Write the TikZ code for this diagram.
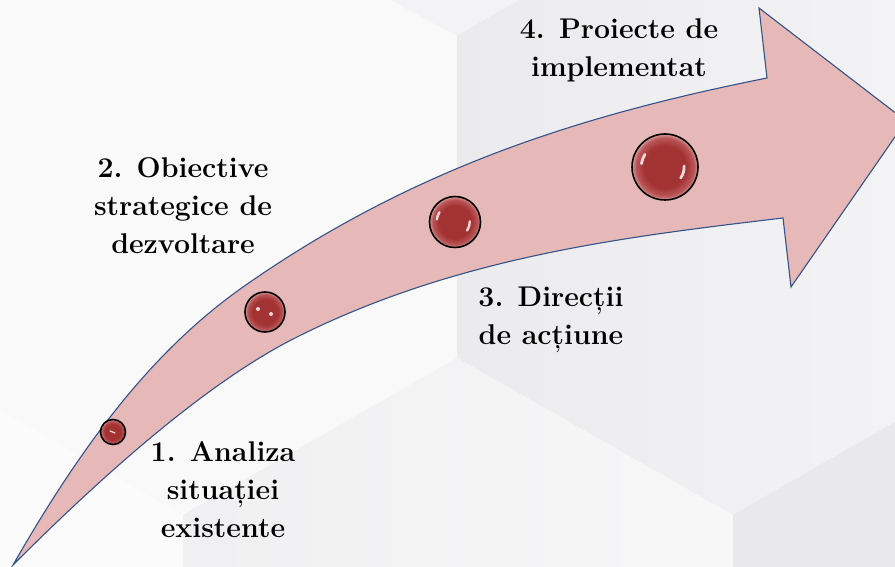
\documentclass[tikz,border=0pt]{standalone}
\definecolor{bgbase}{HTML}{F3F3F5}
\definecolor{bgwhite}{HTML}{F9F9FA}
\definecolor{bgface}{HTML}{EBEBED}
\definecolor{bgmid}{HTML}{F7F7F8}
\definecolor{bgdark}{HTML}{E9E9EB}
\definecolor{bglight}{HTML}{FBFBFB}
\definecolor{arrowpink}{HTML}{E6B8B7}
\definecolor{arrowline}{HTML}{34538A}
\definecolor{orbcore}{HTML}{A33233}
\definecolor{orbrim}{HTML}{B95556}
\definecolor{orbhalo}{HTML}{D69A9A}
\pgfdeclareradialshading{orbfill}{\pgfpoint{0bp}{0bp}}{color(0bp)=(orbcore); color(16bp)=(orbcore); color(22bp)=(orbrim); color(25bp)=(orbhalo); color(50bp)=(orbhalo)}

\begin{document}
\begin{tikzpicture}[x=1pt,y=1pt,
 lbl/.style={font=\fontsize{28.5}{38}\selectfont\bfseries,align=center,inner sep=0pt},
 orb/.style={circle,draw=black,line width=1.6pt,shading=orbfill,minimum size=#1,inner sep=0pt},
 glint/.style={white,opacity=.8,line cap=round,line width=#1}]
\useasboundingbox (0,0) rectangle (895,567);
\clip (0,0) rectangle (895,567);
\fill[bgbase] (0,0) rectangle (895,567);
\fill[bgwhite] (0,567)--(390,567)--(457,531)--(457,209)--(183,52)--(0,157)--cycle;
\shade[left color=bgface,right color=bgbase] (457,531)--(519,567)--(895,567)--(895,145)--(733,52)--(457,209)--cycle;
\shade[left color=bgface!60!bgmid,right color=bgmid] (183,0)--(183,52)--(457,209)--(733,52)--(733,0)--cycle;
\fill[bgdark] (733,0)--(733,52)--(895,145)--(895,0)--cycle;
\fill[bglight] (0,0)--(0,157)--(183,52)--(183,0)--cycle;
\draw[draw=arrowline,fill=arrowpink,line width=1.1pt] (13,2) .. controls (88,133) and (158,220) .. (243,280) .. controls (418,403) and (592,454) .. (767,489) -- (759,559) -- (906,446) -- (791,280) -- (783,349) .. controls (623,330) and (457,310) .. (297,230) .. controls (207,185) and (103,92) .. (13,2) -- cycle;
\node[orb=25pt] (s1) at (113,135) {};
\node[orb=40pt] (s2) at (265,255) {};
\node[orb=51pt] (s3) at (455,345) {};
\node[orb=66pt] (s4) at (665,400) {};
\draw[glint=1.2pt] ([shift={(-3,1)}]s1.center) -- ([shift={(2,-1)}]s1.center);
\fill[white,opacity=.8] ([shift={(-7,3)}]s2.center) circle (2pt) ([shift={(6,-2)}]s2.center) circle (2pt);
\foreach \s/\r/\w in {s3/25.5/2.4,s4/33/2.8}{
 \draw[glint=\w pt] ([shift={(148:{0.72*\r})}]\s.center) arc[start angle=148,end angle=172,radius={0.72*\r}];
 \draw[glint=\w pt] ([shift={(3:{0.58*\r})}]\s.center) arc[start angle=3,end angle=-35,radius={0.58*\r}];
}
\node[lbl] (t1) at (223,77) {1. Analiza\\situației\\existente};
\node[lbl] (t2) at (183,361) {2. Obiective\\strategice de\\dezvoltare};
\node[lbl] (t3) at (551,247) {3. Direcții\\de acțiune};
\node[lbl] (t4) at (619,517) {4. Proiecte de\\implementat};
\end{tikzpicture}
\end{document}
